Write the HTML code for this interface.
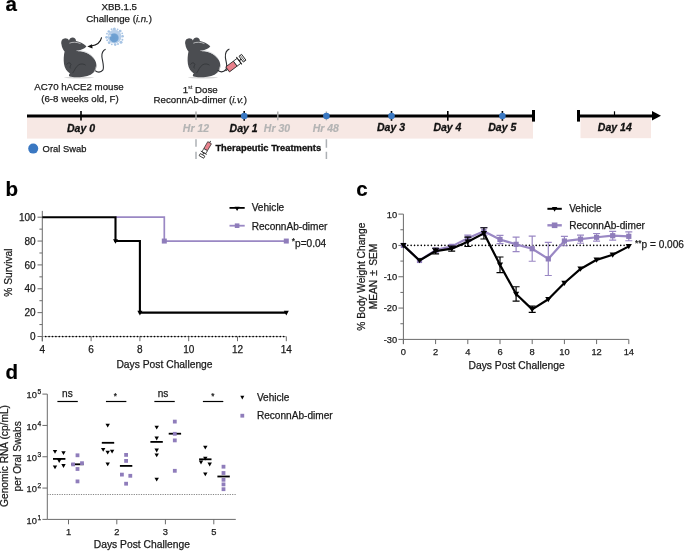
<!DOCTYPE html>
<html><head><meta charset="utf-8">
<style>
html,body{margin:0;padding:0;background:#fff;}
body{width:685px;height:551px;overflow:hidden;}
svg{display:block;font-family:"Liberation Sans",sans-serif;will-change:transform;}
text{stroke:#1a1a1a;stroke-width:0.25px;}
.ta{font-size:9.7px;fill:#1a1a1a;}
.t{font-size:10px;fill:#1a1a1a;}
.bi{font-weight:bold;font-style:italic;font-size:10.5px;text-anchor:middle;fill:#111;stroke:#111;stroke-width:0.3px;}
.gi{font-weight:bold;font-style:italic;font-size:10.5px;text-anchor:middle;fill:#b4b4b4;stroke:#b4b4b4;stroke-width:0.2px;}
.lab{font-weight:bold;font-size:20.5px;fill:#000;stroke:#000;stroke-width:0.2px;}
</style></head>
<body>
<svg width="685" height="551" viewBox="0 0 685 551">
<text class="lab" x="5.5" y="10.7">a</text>
<text class="lab" x="5.6" y="196.2">b</text>
<text class="lab" x="356.2" y="196">c</text>
<text class="lab" x="5.5" y="378.5">d</text>
<!-- ============ PANEL A ============ -->
<g id="panelA">
<text class="ta" x="119.2" y="9.9" text-anchor="middle">XBB.1.5</text>
<text class="ta" x="119.2" y="22.2" text-anchor="middle">Challenge (<tspan font-style="italic">i.n.</tspan>)</text>
<text class="ta" x="79" y="89.9" text-anchor="middle">AC70 hACE2 mouse</text>
<text class="ta" x="80" y="101.9" text-anchor="middle">(6-8 weeks old, F)</text>
<text class="ta" x="200.2" y="92.5" text-anchor="middle">1<tspan font-size="5.6" dy="-3.6" style="stroke-width:0.1px">st</tspan><tspan dy="3.6"> Dose</tspan></text>
<text class="ta" x="200.3" y="103" text-anchor="middle">ReconnAb-dimer (<tspan font-style="italic">i.v.</tspan>)</text>


<defs>
<g id="mouse">
<ellipse cx="79" cy="77.6" rx="15" ry="0.8" fill="#d8d8d8"/>
<path d="M61.5,44.6 C60.6,41 62.2,38.6 64.6,38.4 C66.6,38.2 68.4,39.2 69,40.4 C69.4,38.4 71,37.4 72.6,37.4 C74.6,37.4 76,38.8 76,41 C79.6,41.6 83.2,43.4 86.4,46.3 C85.4,48 83,49.2 80.4,50 C79.2,50.4 78.4,50.8 77.8,51.2 C83.6,51 89.6,53.4 93.8,58.4 C97.4,62.8 97.4,69 93.6,72.6 C90,76 85,77.2 79.6,77.2 C76,77.4 72.2,77.4 69.8,76.6 C68.6,76 68.6,74.4 70,73.4 C67,71.6 64.6,68.4 64,64 C63.4,59.6 63.8,55.2 64.6,51.6 C63,49.6 61.8,47.2 61.5,44.6 Z" fill="#4b4d51"/>
<path d="M69.4,43.2 C72.5,41.8 77,42 80.5,43.6" fill="none" stroke="#cfd0d2" stroke-width="0.8"/>
<path d="M76.5,50.6 C83,50.2 90.5,53 94.2,58.6" fill="none" stroke="#cfd0d2" stroke-width="0.7"/>
<path d="M66.6,64.6 C68,62.2 70.2,62.4 71,64.4 C70.2,66.2 69.6,67.6 70.6,68.4" fill="none" stroke="#2e3034" stroke-width="0.7"/>
<path d="M72.6,73.2 C74.4,71 75.6,66.6 79,64.6 C81.4,63.4 84.2,64 85.6,65.2" fill="none" stroke="#2e3034" stroke-width="0.7"/>
<path d="M93.8,72.4 C95.2,70.6 95.8,68.6 96,66.6" fill="none" stroke="#e6e6e6" stroke-width="0.6"/>
</g>
</defs>
<use href="#mouse"/>
<use href="#mouse" transform="translate(123.9,0)"/>
<!-- tail mouse 1 -->
<path d="M95.2,70.6 C97.2,72.6 100.8,72.8 102.8,70.2 C104.6,67.4 102.4,61.2 101.9,56.8 C101.6,52.8 103,50.4 105.6,49.2" fill="none" stroke="#2a2c30" stroke-width="1.1"/>
<!-- tail mouse 2 -->
<path d="M217.6,70.2 C219.4,72.2 223.4,72.8 225.8,69.6 C228.2,66.4 225.8,61.8 225.4,57.6 C225,53.2 226.6,50.2 229.4,49" fill="none" stroke="#2a2c30" stroke-width="1.1"/>
<!-- virus -->
<defs><radialGradient id="vg" cx="0.45" cy="0.55" r="0.6"><stop offset="0" stop-color="#6a9dd0"/><stop offset="0.75" stop-color="#6fa1d2"/><stop offset="1" stop-color="#8db5de"/></radialGradient></defs>
<g transform="translate(114.6,36.7)">
<g fill="#a7c4e4">
<circle cx="-0.2" cy="-7.8" r="1.5"/><circle cx="5.6" cy="-5.6" r="1.4"/><circle cx="8" cy="-0.4" r="1.3"/><circle cx="6.4" cy="5.6" r="1.5"/>
<circle cx="0.6" cy="7.9" r="1.3"/><circle cx="-5.4" cy="6" r="1.4"/><circle cx="-8" cy="0.6" r="1.4"/><circle cx="-5.8" cy="-5.2" r="1.3"/>
<circle cx="3" cy="-7.4" r="0.9"/><circle cx="7.6" cy="-3.4" r="0.9"/><circle cx="7.8" cy="3" r="1"/><circle cx="3.4" cy="7.4" r="1"/>
<circle cx="-2.8" cy="7.6" r="0.9"/><circle cx="-7.4" cy="3.6" r="1"/><circle cx="-7.6" cy="-3" r="0.9"/><circle cx="-3" cy="-7.4" r="1"/>
</g>
<circle r="6.9" fill="#b6cee9"/>
<circle cx="-0.4" cy="1.1" r="4.6" fill="url(#vg)"/>
<rect x="-6" y="-1.3" width="2.6" height="1" fill="#fff" opacity="0.9"/>
</g>
<!-- arrow -->
<path d="M101.6,37.3 C100.8,41.6 96.8,45 91,46.1" fill="none" stroke="#111" stroke-width="1.05"/>
<path d="M87.3,46.6 L92,44.2 L92.6,48.6 Z" fill="#111"/>
<!-- syringe big -->
<g transform="translate(227.6,69.4) rotate(-37)">
<line x1="-2.6" y1="0" x2="0" y2="0" stroke="#222" stroke-width="1"/>
<rect x="0" y="-3.1" width="9.6" height="6.2" fill="#e8808b" stroke="#222" stroke-width="0.8"/>
<rect x="9.6" y="-3.1" width="4.8" height="6.2" fill="#fff" stroke="#222" stroke-width="0.8"/>
<line x1="14.4" y1="-4.6" x2="14.4" y2="4.6" stroke="#222" stroke-width="1"/>
<line x1="14.4" y1="0" x2="18" y2="0" stroke="#222" stroke-width="1"/>
<rect x="17" y="-3.6" width="3.2" height="7.2" fill="#fff" stroke="#222" stroke-width="0.9"/>
<line x1="18.6" y1="-3.6" x2="18.6" y2="3.6" stroke="#222" stroke-width="0.6"/>
</g>
<!-- syringe small -->
<g transform="translate(210.6,141) rotate(120)">
<line x1="0" y1="0" x2="2" y2="0" stroke="#333" stroke-width="0.9"/>
<rect x="2" y="-2.1" width="8" height="4.2" fill="#e9838e" stroke="#2a2a2a" stroke-width="0.7"/>
<rect x="10" y="-2.1" width="3.6" height="4.2" fill="#fff" stroke="#2a2a2a" stroke-width="0.7"/>
<line x1="13.6" y1="-3.4" x2="13.6" y2="3.4" stroke="#2a2a2a" stroke-width="0.8"/>
<line x1="13.6" y1="0" x2="16.4" y2="0" stroke="#2a2a2a" stroke-width="0.8"/>
<rect x="16" y="-2.6" width="2.4" height="5.2" fill="#fff" stroke="#2a2a2a" stroke-width="0.8"/>
</g>

<!-- pink bands -->
<rect x="27" y="117.5" width="506" height="21.1" fill="#f7e8e4"/>
<rect x="580.5" y="117.5" width="70.5" height="20.7" fill="#f7e8e4"/>
<!-- main line -->
<line x1="27" y1="116" x2="533.5" y2="116" stroke="#000" stroke-width="3"/>
<line x1="533.5" y1="110" x2="533.5" y2="121.6" stroke="#000" stroke-width="3"/>
<line x1="578.5" y1="110" x2="578.5" y2="121.6" stroke="#000" stroke-width="3"/>
<line x1="578.5" y1="116" x2="653" y2="116" stroke="#000" stroke-width="3"/>
<path d="M652,111 L661,115.8 L652,120.5 Z" fill="#000"/>
<line x1="614.5" y1="111.3" x2="614.5" y2="116" stroke="#000" stroke-width="1.2"/>
<!-- ticks -->
<line x1="81" y1="111" x2="81" y2="120.5" stroke="#000" stroke-width="1.6"/>
<line x1="447.8" y1="111" x2="447.8" y2="120.8" stroke="#000" stroke-width="1.6"/>
<line x1="244.2" y1="111" x2="244.2" y2="120.8" stroke="#000" stroke-width="1.6"/>
<line x1="391.5" y1="111" x2="391.5" y2="120.8" stroke="#000" stroke-width="1.6"/>
<line x1="502.4" y1="111" x2="502.4" y2="120.8" stroke="#000" stroke-width="1.6"/>
<!-- gray ticks -->
<line x1="196" y1="111.5" x2="196" y2="120" stroke="#aaa" stroke-width="1.4"/>
<line x1="277.8" y1="111.5" x2="277.8" y2="120.3" stroke="#aaa" stroke-width="1.4"/>
<line x1="326.4" y1="111.5" x2="326.4" y2="120.3" stroke="#aaa" stroke-width="1.4"/>
<line x1="196" y1="139.2" x2="196" y2="159" stroke="#adb1b5" stroke-width="1.5" stroke-dasharray="7.5,5"/>
<line x1="326.4" y1="139.2" x2="326.4" y2="159" stroke="#adb1b5" stroke-width="1.5" stroke-dasharray="8.5,4"/>
<!-- blue dots -->
<g fill="#3a78c2">
<circle cx="244.2" cy="116" r="3.3"/>
<circle cx="326.4" cy="116" r="3.3"/>
<circle cx="391.5" cy="116" r="3.3"/>
<circle cx="502.4" cy="116" r="3.3"/>
<circle cx="33.2" cy="148.6" r="5"/>
</g>
<!-- timeline labels -->
<text class="bi" x="81" y="131.7">Day 0</text>
<text class="gi" x="196" y="131.5">Hr 12</text>
<text class="bi" x="243.6" y="131.6">Day 1</text>
<text class="gi" x="277" y="131.5">Hr 30</text>
<text class="gi" x="325.8" y="131.5">Hr 48</text>
<text class="bi" x="391" y="131.3">Day 3</text>
<text class="bi" x="447.4" y="131.3">Day 4</text>
<text class="bi" x="502.3" y="131.4">Day 5</text>
<text class="bi" x="614.8" y="130.8">Day 14</text>
<text class="ta" x="42.6" y="151.9" style="font-size:9.4px">Oral Swab</text>
<text x="215.4" y="151.3" style="font-size:9.4px;font-weight:bold;fill:#111;stroke:#111;stroke-width:0.3px">Therapeutic Treatments</text>
</g>

<g id="panelB">
<line x1="42.3" y1="210.9" x2="42.3" y2="341.4" stroke="#6b6b6b" stroke-width="1"/>
<line x1="37.5" y1="336.5" x2="42.3" y2="336.5" stroke="#6b6b6b" stroke-width="1"/>
<text x="35.6" y="340.1" font-size="10" fill="#1a1a1a" text-anchor="end" >0</text>
<line x1="39.4" y1="324.57" x2="42.3" y2="324.57" stroke="#6b6b6b" stroke-width="1"/>
<line x1="37.5" y1="312.64" x2="42.3" y2="312.64" stroke="#6b6b6b" stroke-width="1"/>
<text x="35.6" y="316.24" font-size="10" fill="#1a1a1a" text-anchor="end" >20</text>
<line x1="39.4" y1="300.71" x2="42.3" y2="300.71" stroke="#6b6b6b" stroke-width="1"/>
<line x1="37.5" y1="288.78" x2="42.3" y2="288.78" stroke="#6b6b6b" stroke-width="1"/>
<text x="35.6" y="292.38" font-size="10" fill="#1a1a1a" text-anchor="end" >40</text>
<line x1="39.4" y1="276.85" x2="42.3" y2="276.85" stroke="#6b6b6b" stroke-width="1"/>
<line x1="37.5" y1="264.92" x2="42.3" y2="264.92" stroke="#6b6b6b" stroke-width="1"/>
<text x="35.6" y="268.52" font-size="10" fill="#1a1a1a" text-anchor="end" >60</text>
<line x1="39.4" y1="252.99" x2="42.3" y2="252.99" stroke="#6b6b6b" stroke-width="1"/>
<line x1="37.5" y1="241.06" x2="42.3" y2="241.06" stroke="#6b6b6b" stroke-width="1"/>
<text x="35.6" y="244.66" font-size="10" fill="#1a1a1a" text-anchor="end" >80</text>
<line x1="39.4" y1="229.13" x2="42.3" y2="229.13" stroke="#6b6b6b" stroke-width="1"/>
<line x1="37.5" y1="217.2" x2="42.3" y2="217.2" stroke="#6b6b6b" stroke-width="1"/>
<text x="35.6" y="220.8" font-size="10" fill="#1a1a1a" text-anchor="end" >100</text>
<line x1="42.3" y1="336.5" x2="286.3" y2="336.5" stroke="#777" stroke-width="0.6"/>
<line x1="45.7" y1="336.5" x2="286.3" y2="336.5" stroke="#000" stroke-width="1.7" stroke-dasharray="0,3.4" stroke-linecap="round"/>
<line x1="42.3" y1="336.5" x2="42.3" y2="341.2" stroke="#6b6b6b" stroke-width="1"/>
<text x="42.3" y="352.7" font-size="10" fill="#1a1a1a" text-anchor="middle" >4</text>
<line x1="91.1" y1="336.5" x2="91.1" y2="341.2" stroke="#6b6b6b" stroke-width="1"/>
<text x="91.1" y="352.7" font-size="10" fill="#1a1a1a" text-anchor="middle" >6</text>
<line x1="139.9" y1="336.5" x2="139.9" y2="341.2" stroke="#6b6b6b" stroke-width="1"/>
<text x="139.9" y="352.7" font-size="10" fill="#1a1a1a" text-anchor="middle" >8</text>
<line x1="188.7" y1="336.5" x2="188.7" y2="341.2" stroke="#6b6b6b" stroke-width="1"/>
<text x="188.7" y="352.7" font-size="10" fill="#1a1a1a" text-anchor="middle" >10</text>
<line x1="237.5" y1="336.5" x2="237.5" y2="341.2" stroke="#6b6b6b" stroke-width="1"/>
<text x="237.5" y="352.7" font-size="10" fill="#1a1a1a" text-anchor="middle" >12</text>
<line x1="286.3" y1="336.5" x2="286.3" y2="341.2" stroke="#6b6b6b" stroke-width="1"/>
<text x="286.3" y="352.7" font-size="10" fill="#1a1a1a" text-anchor="middle" >14</text>
<path d="M115.5,217.2 H164.3 V241.06 H286.3" fill="none" stroke="#9a88c4" stroke-width="1.7"/>
<path d="M42.3,217.2 H115.5 V241.06 H139.9 V312.64 H286.3" fill="none" stroke="#000" stroke-width="2.1"/>
<path d="M113,239.26 L118,239.26 L115.5,243.86 Z" fill="#000"/>
<path d="M137.4,310.84 L142.4,310.84 L139.9,315.44 Z" fill="#000"/>
<path d="M283.8,310.84 L288.8,310.84 L286.3,315.44 Z" fill="#000"/>
<rect x="161.8" y="238.56" width="5" height="5" fill="#8f7dbb"/>
<rect x="283.8" y="238.56" width="5" height="5" fill="#8f7dbb"/>
<line x1="229.5" y1="207.9" x2="244.7" y2="207.9" stroke="#000" stroke-width="1.8"/>
<path d="M234.6,206.7 L239.6,206.7 L237.1,211.1 Z" fill="#000"/>
<text x="251.7" y="211.1" font-size="10.1" fill="#1a1a1a" text-anchor="start" >Vehicle</text>
<line x1="229.5" y1="225.7" x2="244.7" y2="225.7" stroke="#9a88c4" stroke-width="1.8"/>
<rect x="234.8" y="223.4" width="4.6" height="4.6" fill="#8f7dbb"/>
<text x="251.7" y="229.5" font-size="10.1" fill="#1a1a1a" text-anchor="start" >ReconnAb-dimer</text>
<text x="291.8" y="246.6" font-size="10.1" fill="#1a1a1a" text-anchor="start" ><tspan font-size="8.4" dy="-2.4">*</tspan><tspan dy="2.4">p=0.04</tspan></text>
<text transform="translate(12.3,272.6) rotate(-90)" font-size="10.2" fill="#1a1a1a" text-anchor="middle">% Survival</text>
<text x="164.5" y="368" font-size="10.3" fill="#1a1a1a" text-anchor="middle" >Days Post Challenge</text>
</g>
<g id="panelC">
<line x1="403.4" y1="214.1" x2="403.4" y2="344.1" stroke="#6b6b6b" stroke-width="1"/>
<line x1="398.4" y1="339.4" x2="403.4" y2="339.4" stroke="#6b6b6b" stroke-width="1"/>
<text x="397.2" y="342.8" font-size="9.3" fill="#1a1a1a" text-anchor="end" >-30</text>
<line x1="400.4" y1="323.74" x2="403.4" y2="323.74" stroke="#6b6b6b" stroke-width="1"/>
<line x1="398.4" y1="308.07" x2="403.4" y2="308.07" stroke="#6b6b6b" stroke-width="1"/>
<text x="397.2" y="311.47" font-size="9.3" fill="#1a1a1a" text-anchor="end" >-20</text>
<line x1="400.4" y1="292.41" x2="403.4" y2="292.41" stroke="#6b6b6b" stroke-width="1"/>
<line x1="398.4" y1="276.75" x2="403.4" y2="276.75" stroke="#6b6b6b" stroke-width="1"/>
<text x="397.2" y="280.15" font-size="9.3" fill="#1a1a1a" text-anchor="end" >-10</text>
<line x1="400.4" y1="261.09" x2="403.4" y2="261.09" stroke="#6b6b6b" stroke-width="1"/>
<line x1="398.4" y1="245.42" x2="403.4" y2="245.42" stroke="#6b6b6b" stroke-width="1"/>
<text x="397.2" y="248.82" font-size="9.3" fill="#1a1a1a" text-anchor="end" >0</text>
<line x1="400.4" y1="229.76" x2="403.4" y2="229.76" stroke="#6b6b6b" stroke-width="1"/>
<line x1="398.4" y1="214.1" x2="403.4" y2="214.1" stroke="#6b6b6b" stroke-width="1"/>
<text x="397.2" y="217.5" font-size="9.3" fill="#1a1a1a" text-anchor="end" >10</text>
<line x1="403.4" y1="339.4" x2="628.8" y2="339.4" stroke="#6b6b6b" stroke-width="1"/>
<line x1="403.4" y1="339.4" x2="403.4" y2="344.1" stroke="#6b6b6b" stroke-width="1"/>
<text x="403.4" y="354.9" font-size="9.3" fill="#1a1a1a" text-anchor="middle" >0</text>
<line x1="435.6" y1="339.4" x2="435.6" y2="344.1" stroke="#6b6b6b" stroke-width="1"/>
<text x="435.6" y="354.9" font-size="9.3" fill="#1a1a1a" text-anchor="middle" >2</text>
<line x1="467.8" y1="339.4" x2="467.8" y2="344.1" stroke="#6b6b6b" stroke-width="1"/>
<text x="467.8" y="354.9" font-size="9.3" fill="#1a1a1a" text-anchor="middle" >4</text>
<line x1="500" y1="339.4" x2="500" y2="344.1" stroke="#6b6b6b" stroke-width="1"/>
<text x="500" y="354.9" font-size="9.3" fill="#1a1a1a" text-anchor="middle" >6</text>
<line x1="532.2" y1="339.4" x2="532.2" y2="344.1" stroke="#6b6b6b" stroke-width="1"/>
<text x="532.2" y="354.9" font-size="9.3" fill="#1a1a1a" text-anchor="middle" >8</text>
<line x1="564.4" y1="339.4" x2="564.4" y2="344.1" stroke="#6b6b6b" stroke-width="1"/>
<text x="564.4" y="354.9" font-size="9.3" fill="#1a1a1a" text-anchor="middle" >10</text>
<line x1="596.6" y1="339.4" x2="596.6" y2="344.1" stroke="#6b6b6b" stroke-width="1"/>
<text x="596.6" y="354.9" font-size="9.3" fill="#1a1a1a" text-anchor="middle" >12</text>
<line x1="628.8" y1="339.4" x2="628.8" y2="344.1" stroke="#6b6b6b" stroke-width="1"/>
<text x="628.8" y="354.9" font-size="9.3" fill="#1a1a1a" text-anchor="middle" >14</text>
<line x1="404.4" y1="245.42" x2="628.8" y2="245.42" stroke="#000" stroke-width="1.6" stroke-dasharray="0,3.38" stroke-linecap="round"/>
<path d="M435.6,248.24 V252 M432.1,248.24 H439.1 M432.1,252 H439.1" stroke="#9a88c4" stroke-width="1.2" fill="none"/>
<path d="M451.7,244.49 V248.24 M448.2,244.49 H455.2 M448.2,248.24 H455.2" stroke="#9a88c4" stroke-width="1.2" fill="none"/>
<path d="M467.8,235.09 V241.35 M464.3,235.09 H471.3 M464.3,241.35 H471.3" stroke="#9a88c4" stroke-width="1.2" fill="none"/>
<path d="M483.9,227.57 V235.09 M480.4,227.57 H487.4 M480.4,235.09 H487.4" stroke="#9a88c4" stroke-width="1.2" fill="none"/>
<path d="M500,235.4 V243.55 M496.5,235.4 H503.5 M496.5,243.55 H503.5" stroke="#9a88c4" stroke-width="1.2" fill="none"/>
<path d="M516.1,237.12 V251.53 M512.6,237.12 H519.6 M512.6,251.53 H519.6" stroke="#9a88c4" stroke-width="1.2" fill="none"/>
<path d="M532.2,236.18 V261.24 M528.7,236.18 H535.7 M528.7,261.24 H535.7" stroke="#9a88c4" stroke-width="1.2" fill="none"/>
<path d="M548.3,242.29 V275.5 M544.8,242.29 H551.8 M544.8,275.5 H551.8" stroke="#9a88c4" stroke-width="1.2" fill="none"/>
<path d="M564.4,236.34 V245.74 M560.9,236.34 H567.9 M560.9,245.74 H567.9" stroke="#9a88c4" stroke-width="1.2" fill="none"/>
<path d="M580.5,235.09 V243.23 M577,235.09 H584 M577,243.23 H584" stroke="#9a88c4" stroke-width="1.2" fill="none"/>
<path d="M596.6,233.52 V241.04 M593.1,233.52 H600.1 M593.1,241.04 H600.1" stroke="#9a88c4" stroke-width="1.2" fill="none"/>
<path d="M612.7,231.33 V240.1 M609.2,231.33 H616.2 M609.2,240.1 H616.2" stroke="#9a88c4" stroke-width="1.2" fill="none"/>
<path d="M628.8,231.96 V240.73 M625.3,231.96 H632.3 M625.3,240.73 H632.3" stroke="#9a88c4" stroke-width="1.2" fill="none"/>
<polyline points="403.4,245.42 419.5,260.46 435.6,250.12 451.7,246.36 467.8,238.22 483.9,231.33 500,239.47 516.1,244.33 532.2,248.71 548.3,258.89 564.4,241.04 580.5,239.16 596.6,237.28 612.7,235.71 628.8,236.34" fill="none" stroke="#9a88c4" stroke-width="2.2" stroke-linejoin="round"/>
<rect x="400.8" y="242.82" width="5.2" height="5.2" fill="#8f7dbb"/>
<rect x="416.9" y="257.86" width="5.2" height="5.2" fill="#8f7dbb"/>
<rect x="433" y="247.52" width="5.2" height="5.2" fill="#8f7dbb"/>
<rect x="449.1" y="243.76" width="5.2" height="5.2" fill="#8f7dbb"/>
<rect x="465.2" y="235.62" width="5.2" height="5.2" fill="#8f7dbb"/>
<rect x="481.3" y="228.73" width="5.2" height="5.2" fill="#8f7dbb"/>
<rect x="497.4" y="236.87" width="5.2" height="5.2" fill="#8f7dbb"/>
<rect x="513.5" y="241.73" width="5.2" height="5.2" fill="#8f7dbb"/>
<rect x="529.6" y="246.11" width="5.2" height="5.2" fill="#8f7dbb"/>
<rect x="545.7" y="256.29" width="5.2" height="5.2" fill="#8f7dbb"/>
<rect x="561.8" y="238.44" width="5.2" height="5.2" fill="#8f7dbb"/>
<rect x="577.9" y="236.56" width="5.2" height="5.2" fill="#8f7dbb"/>
<rect x="594" y="234.68" width="5.2" height="5.2" fill="#8f7dbb"/>
<rect x="610.1" y="233.11" width="5.2" height="5.2" fill="#8f7dbb"/>
<rect x="626.2" y="233.74" width="5.2" height="5.2" fill="#8f7dbb"/>
<path d="M435.6,248.24 V253.88 M432.1,248.24 H439.1 M432.1,253.88 H439.1" stroke="#000" stroke-width="1.2" fill="none"/>
<path d="M451.7,246.21 V251.22 M448.2,246.21 H455.2 M448.2,251.22 H455.2" stroke="#000" stroke-width="1.2" fill="none"/>
<path d="M467.8,237.12 V246.52 M464.3,237.12 H471.3 M464.3,246.52 H471.3" stroke="#000" stroke-width="1.2" fill="none"/>
<path d="M483.9,227.73 V239 M480.4,227.73 H487.4 M480.4,239 H487.4" stroke="#000" stroke-width="1.2" fill="none"/>
<path d="M500,257.02 V272.68 M496.5,257.02 H503.5 M496.5,272.68 H503.5" stroke="#000" stroke-width="1.2" fill="none"/>
<path d="M516.1,286.77 V301.18 M512.6,286.77 H519.6 M512.6,301.18 H519.6" stroke="#000" stroke-width="1.2" fill="none"/>
<path d="M532.2,306.2 V312.46 M528.7,306.2 H535.7 M528.7,312.46 H535.7" stroke="#000" stroke-width="1.2" fill="none"/>
<polyline points="403.4,245.42 419.5,260.46 435.6,251.06 451.7,248.71 467.8,241.82 483.9,233.36 500,264.85 516.1,293.98 532.2,309.33 548.3,299.3 564.4,283.01 580.5,268.92 596.6,259.83 612.7,254.82 628.8,246.36" fill="none" stroke="#000" stroke-width="2.2" stroke-linejoin="round"/>
<path d="M400.3,243.12 L406.5,243.12 L403.4,248.32 Z" fill="#000"/>
<path d="M416.4,258.16 L422.6,258.16 L419.5,263.36 Z" fill="#000"/>
<path d="M432.5,248.76 L438.7,248.76 L435.6,253.96 Z" fill="#000"/>
<path d="M448.6,246.41 L454.8,246.41 L451.7,251.61 Z" fill="#000"/>
<path d="M464.7,239.52 L470.9,239.52 L467.8,244.72 Z" fill="#000"/>
<path d="M480.8,231.06 L487,231.06 L483.9,236.26 Z" fill="#000"/>
<path d="M496.9,262.55 L503.1,262.55 L500,267.75 Z" fill="#000"/>
<path d="M513,291.68 L519.2,291.68 L516.1,296.88 Z" fill="#000"/>
<path d="M529.1,307.03 L535.3,307.03 L532.2,312.23 Z" fill="#000"/>
<path d="M545.2,297 L551.4,297 L548.3,302.2 Z" fill="#000"/>
<path d="M561.3,280.71 L567.5,280.71 L564.4,285.92 Z" fill="#000"/>
<path d="M577.4,266.62 L583.6,266.62 L580.5,271.82 Z" fill="#000"/>
<path d="M593.5,257.53 L599.7,257.53 L596.6,262.73 Z" fill="#000"/>
<path d="M609.6,252.52 L615.8,252.52 L612.7,257.72 Z" fill="#000"/>
<path d="M625.7,244.06 L631.9,244.06 L628.8,249.26 Z" fill="#000"/>
<line x1="547.4" y1="208.8" x2="561.8" y2="208.8" stroke="#000" stroke-width="2"/>
<path d="M551.9,207.1 L557.3,207.1 L554.6,211.7 Z" fill="#000"/>
<text x="569.2" y="212" font-size="10.1" fill="#1a1a1a" text-anchor="start" >Vehicle</text>
<line x1="547.4" y1="225.3" x2="561.8" y2="225.3" stroke="#9a88c4" stroke-width="2.4"/>
<rect x="551.8" y="222.5" width="5.6" height="5.6" fill="#8f7dbb"/>
<text x="569.2" y="228.9" font-size="10.1" fill="#1a1a1a" text-anchor="start" >ReconnAb-dimer</text>
<text x="635" y="247.9" font-size="10.1" fill="#1a1a1a" text-anchor="start" ><tspan font-size="8.4" dy="-2.4">**</tspan><tspan dy="2.4">p = 0.006</tspan></text>
<text transform="translate(364.5,276.7) rotate(-90)" font-size="10.2" fill="#1a1a1a" text-anchor="middle">% Body Weight Change</text>
<text transform="translate(377,276.5) rotate(-90)" font-size="10.2" fill="#1a1a1a" text-anchor="middle">MEAN <tspan dx="1.4">±</tspan><tspan dx="1.4"> SEM</tspan></text>
<text x="516.6" y="368.6" font-size="10.3" fill="#1a1a1a" text-anchor="middle" >Days Post Challenge</text>
</g>
<g id="panelD">
<line x1="47.3" y1="394.1" x2="47.3" y2="519.4" stroke="#6b6b6b" stroke-width="1"/>
<line x1="42.4" y1="519.4" x2="47.3" y2="519.4" stroke="#6b6b6b" stroke-width="1"/>
<text x="36.9" y="523.5" font-size="9.3" fill="#1a1a1a" text-anchor="end" >10</text>
<text x="37.4" y="519.6" font-size="6.6" fill="#1a1a1a" text-anchor="start" >1</text>
<line x1="42.4" y1="488.07" x2="47.3" y2="488.07" stroke="#6b6b6b" stroke-width="1"/>
<text x="36.9" y="492.18" font-size="9.3" fill="#1a1a1a" text-anchor="end" >10</text>
<text x="37.4" y="488.27" font-size="6.6" fill="#1a1a1a" text-anchor="start" >2</text>
<line x1="42.4" y1="456.75" x2="47.3" y2="456.75" stroke="#6b6b6b" stroke-width="1"/>
<text x="36.9" y="460.85" font-size="9.3" fill="#1a1a1a" text-anchor="end" >10</text>
<text x="37.4" y="456.95" font-size="6.6" fill="#1a1a1a" text-anchor="start" >3</text>
<line x1="42.4" y1="425.43" x2="47.3" y2="425.43" stroke="#6b6b6b" stroke-width="1"/>
<text x="36.9" y="429.53" font-size="9.3" fill="#1a1a1a" text-anchor="end" >10</text>
<text x="37.4" y="425.62" font-size="6.6" fill="#1a1a1a" text-anchor="start" >4</text>
<line x1="42.4" y1="394.1" x2="47.3" y2="394.1" stroke="#6b6b6b" stroke-width="1"/>
<text x="36.9" y="398.2" font-size="9.3" fill="#1a1a1a" text-anchor="end" >10</text>
<text x="37.4" y="394.3" font-size="6.6" fill="#1a1a1a" text-anchor="start" >5</text>
<line x1="47.3" y1="519.4" x2="235.8" y2="519.4" stroke="#6b6b6b" stroke-width="1"/>
<line x1="68.5" y1="519.4" x2="68.5" y2="524.3" stroke="#6b6b6b" stroke-width="1"/>
<text x="68.5" y="534.9" font-size="9.3" fill="#1a1a1a" text-anchor="middle" >1</text>
<line x1="116.8" y1="519.4" x2="116.8" y2="524.3" stroke="#6b6b6b" stroke-width="1"/>
<text x="116.8" y="534.9" font-size="9.3" fill="#1a1a1a" text-anchor="middle" >2</text>
<line x1="165.4" y1="519.4" x2="165.4" y2="524.3" stroke="#6b6b6b" stroke-width="1"/>
<text x="165.4" y="534.9" font-size="9.3" fill="#1a1a1a" text-anchor="middle" >3</text>
<line x1="213.8" y1="519.4" x2="213.8" y2="524.3" stroke="#6b6b6b" stroke-width="1"/>
<text x="213.8" y="534.9" font-size="9.3" fill="#1a1a1a" text-anchor="middle" >5</text>
<line x1="47.3" y1="494.5" x2="235.8" y2="494.5" stroke="#777" stroke-width="0.9" stroke-dasharray="1.2,1.2"/>
<line x1="57.4" y1="401.5" x2="77.8" y2="401.5" stroke="#000" stroke-width="1.2"/>
<text x="67.45" y="397" font-size="10.1" fill="#1a1a1a" text-anchor="middle" >ns</text>
<line x1="105.95" y1="401.5" x2="126.35" y2="401.5" stroke="#000" stroke-width="1.2"/>
<text x="115.4" y="399.2" font-size="8.2" fill="#1a1a1a" text-anchor="middle" >*</text>
<line x1="154.35" y1="401.5" x2="174.75" y2="401.5" stroke="#000" stroke-width="1.2"/>
<text x="163.1" y="397" font-size="10.1" fill="#1a1a1a" text-anchor="middle" >ns</text>
<line x1="202.9" y1="401.5" x2="223.3" y2="401.5" stroke="#000" stroke-width="1.2"/>
<text x="212.9" y="399.2" font-size="8.2" fill="#1a1a1a" text-anchor="middle" >*</text>
<line x1="53" y1="458.9" x2="65.4" y2="458.9" stroke="#000" stroke-width="1.8"/>
<line x1="101.8" y1="442.8" x2="114.2" y2="442.8" stroke="#000" stroke-width="1.8"/>
<line x1="150.4" y1="441.9" x2="162.8" y2="441.9" stroke="#000" stroke-width="1.8"/>
<line x1="199.1" y1="459.3" x2="211.5" y2="459.3" stroke="#000" stroke-width="1.8"/>
<line x1="71.3" y1="464.3" x2="83.7" y2="464.3" stroke="#000" stroke-width="1.8"/>
<line x1="119.9" y1="465.9" x2="132.3" y2="465.9" stroke="#000" stroke-width="1.8"/>
<line x1="168.7" y1="433.7" x2="181.1" y2="433.7" stroke="#000" stroke-width="1.8"/>
<line x1="217.4" y1="476.5" x2="229.8" y2="476.5" stroke="#000" stroke-width="1.8"/>
<rect x="75.6" y="453.4" width="3.8" height="3.8" fill="#8f7dbb"/>
<rect x="71.2" y="462.5" width="3.8" height="3.8" fill="#8f7dbb"/>
<rect x="80.1" y="461.3" width="3.8" height="3.8" fill="#8f7dbb"/>
<rect x="75.6" y="467.1" width="3.8" height="3.8" fill="#8f7dbb"/>
<rect x="75.6" y="479.5" width="3.8" height="3.8" fill="#8f7dbb"/>
<rect x="124.2" y="453" width="3.8" height="3.8" fill="#8f7dbb"/>
<rect x="124.2" y="459" width="3.8" height="3.8" fill="#8f7dbb"/>
<rect x="120" y="472.7" width="3.8" height="3.8" fill="#8f7dbb"/>
<rect x="128.4" y="473.9" width="3.8" height="3.8" fill="#8f7dbb"/>
<rect x="124.2" y="481.8" width="3.8" height="3.8" fill="#8f7dbb"/>
<rect x="172.9" y="419.7" width="3.8" height="3.8" fill="#8f7dbb"/>
<rect x="172.9" y="431.9" width="3.8" height="3.8" fill="#8f7dbb"/>
<rect x="172.9" y="438.5" width="3.8" height="3.8" fill="#8f7dbb"/>
<rect x="172.9" y="468.9" width="3.8" height="3.8" fill="#8f7dbb"/>
<rect x="221.6" y="464.8" width="3.8" height="3.8" fill="#8f7dbb"/>
<rect x="221.6" y="471.1" width="3.8" height="3.8" fill="#8f7dbb"/>
<rect x="221.6" y="477.9" width="3.8" height="3.8" fill="#8f7dbb"/>
<rect x="221.6" y="482.5" width="3.8" height="3.8" fill="#8f7dbb"/>
<rect x="221.6" y="487.3" width="3.8" height="3.8" fill="#8f7dbb"/>
<path d="M52.8,449.9 L57.2,449.9 L55,453.7 Z" fill="#000"/>
<path d="M61.3,451.2 L65.7,451.2 L63.5,455 Z" fill="#000"/>
<path d="M57,459.1 L61.4,459.1 L59.2,462.9 Z" fill="#000"/>
<path d="M52.8,465.4 L57.2,465.4 L55,469.2 Z" fill="#000"/>
<path d="M61.3,464.1 L65.7,464.1 L63.5,467.9 Z" fill="#000"/>
<path d="M105.5,423.8 L109.9,423.8 L107.7,427.6 Z" fill="#000"/>
<path d="M101,447.9 L105.4,447.9 L103.2,451.7 Z" fill="#000"/>
<path d="M105.5,450.8 L109.9,450.8 L107.7,454.6 Z" fill="#000"/>
<path d="M109.9,449.8 L114.3,449.8 L112.1,453.6 Z" fill="#000"/>
<path d="M105.5,462.5 L109.9,462.5 L107.7,466.3 Z" fill="#000"/>
<path d="M154.5,425.8 L158.9,425.8 L156.7,429.6 Z" fill="#000"/>
<path d="M154.5,436.6 L158.9,436.6 L156.7,440.4 Z" fill="#000"/>
<path d="M154.5,448.6 L158.9,448.6 L156.7,452.4 Z" fill="#000"/>
<path d="M154.5,453.5 L158.9,453.5 L156.7,457.3 Z" fill="#000"/>
<path d="M154.5,477.8 L158.9,477.8 L156.7,481.6 Z" fill="#000"/>
<path d="M203.1,445.7 L207.5,445.7 L205.3,449.5 Z" fill="#000"/>
<path d="M203.1,456.8 L207.5,456.8 L205.3,460.6 Z" fill="#000"/>
<path d="M198.8,460.6 L203.2,460.6 L201,464.4 Z" fill="#000"/>
<path d="M207.5,462.6 L211.9,462.6 L209.7,466.4 Z" fill="#000"/>
<path d="M203.1,472.4 L207.5,472.4 L205.3,476.2 Z" fill="#000"/>
<path d="M240.3,395.8 L244.3,395.8 L242.3,399.4 Z" fill="#000"/>
<text x="256.9" y="401" font-size="10.1" fill="#1a1a1a" text-anchor="start" >Vehicle</text>
<rect x="240.4" y="413.8" width="3.8" height="3.8" fill="#8f7dbb"/>
<text x="256.9" y="418.6" font-size="10.1" fill="#1a1a1a" text-anchor="start" >ReconnAb-dimer</text>
<text transform="translate(7.7,456) rotate(-90)" font-size="10.2" fill="#1a1a1a" text-anchor="middle">Genomic RNA (cp/mL)</text>
<text transform="translate(20.5,456.3) rotate(-90)" font-size="10.2" fill="#1a1a1a" text-anchor="middle">per Oral Swabs</text>
<text x="141.8" y="548.4" font-size="10.3" fill="#1a1a1a" text-anchor="middle" >Days Post Challenge</text>
</g>
</svg>
</body></html>
